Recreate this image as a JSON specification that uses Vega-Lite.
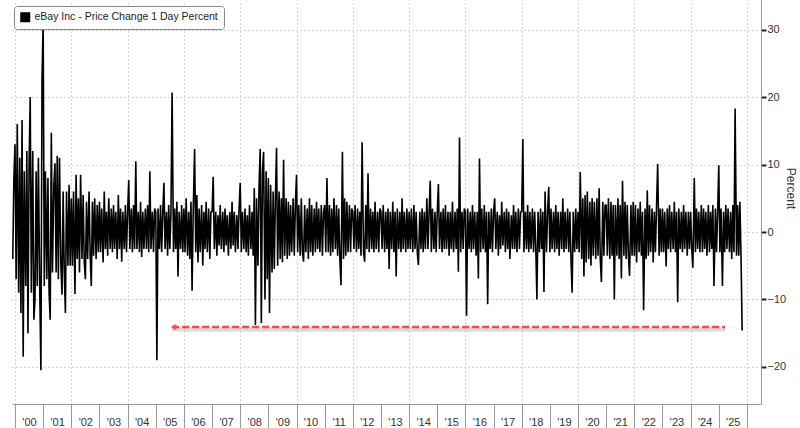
{
"$schema":"https://vega.github.io/schema/vega-lite/v6.json",
"width":749,"height":404,
"autosize":{"type":"none"},
"padding":{"left":12,"top":0,"right":39,"bottom":24},
"background":"white",
"config":{"view":{"stroke":null},"font":"Liberation Sans","axis":{"labelOverlap":false,"labelFlush":false,"labelBound":false}},
"resolve":{"axis":{"x":"independent"}},
"datasets":{
"arrow":[{"t":2005.58,"t2":2025.22,"v":-14.1,"h":2005.63}],
"ret":[
{"t":1999.92,"v":-4},{"t":1999.96,"v":8},
{"t":2000,"v":13},{"t":2000.04,"v":-7},{"t":2000.08,"v":16},{"t":2000.13,"v":-9},{"t":2000.17,"v":11},{"t":2000.21,"v":-12},{"t":2000.25,"v":16.6},{"t":2000.29,"v":-18.5},{"t":2000.33,"v":9},{"t":2000.38,"v":-8},{"t":2000.42,"v":12},{"t":2000.46,"v":-15},{"t":2000.5,"v":10},{"t":2000.54,"v":20},{"t":2000.58,"v":-9},{"t":2000.63,"v":12},{"t":2000.67,"v":-13},{"t":2000.71,"v":-10},{"t":2000.75,"v":9},{"t":2000.79,"v":-8},{"t":2000.83,"v":11},{"t":2000.88,"v":-9},{"t":2000.92,"v":-20.5},{"t":2000.96,"v":23},
{"t":2001,"v":31},{"t":2001.04,"v":-8},{"t":2001.08,"v":9},{"t":2001.13,"v":-7},{"t":2001.17,"v":8},{"t":2001.21,"v":-9},{"t":2001.25,"v":-13},{"t":2001.29,"v":14.7},{"t":2001.33,"v":-6},{"t":2001.38,"v":7},{"t":2001.42,"v":10.2},{"t":2001.46,"v":-6},{"t":2001.5,"v":11.3},{"t":2001.54,"v":-7},{"t":2001.58,"v":11},{"t":2001.63,"v":-5},{"t":2001.67,"v":-9.3},{"t":2001.71,"v":6},{"t":2001.75,"v":-6},{"t":2001.79,"v":-12},{"t":2001.83,"v":6},{"t":2001.88,"v":-5},{"t":2001.92,"v":7},{"t":2001.96,"v":-5},
{"t":2002,"v":5},{"t":2002.04,"v":-5},{"t":2002.08,"v":6},{"t":2002.13,"v":-9.2},{"t":2002.17,"v":8.5},{"t":2002.21,"v":-4},{"t":2002.25,"v":5},{"t":2002.29,"v":-6},{"t":2002.33,"v":8.5},{"t":2002.38,"v":-4},{"t":2002.42,"v":5.5},{"t":2002.46,"v":-4.5},{"t":2002.5,"v":-7},{"t":2002.54,"v":4.5},{"t":2002.58,"v":-4},{"t":2002.63,"v":6},{"t":2002.67,"v":-3.5},{"t":2002.71,"v":-8},{"t":2002.75,"v":4.5},{"t":2002.79,"v":-3.5},{"t":2002.83,"v":5},{"t":2002.88,"v":-4},{"t":2002.92,"v":4},{"t":2002.96,"v":-3},
{"t":2003,"v":4.5},{"t":2003.04,"v":-3},{"t":2003.08,"v":3.5},{"t":2003.13,"v":-4.5},{"t":2003.17,"v":6},{"t":2003.21,"v":-2.5},{"t":2003.25,"v":3},{"t":2003.29,"v":-3.5},{"t":2003.33,"v":5},{"t":2003.38,"v":-2.5},{"t":2003.42,"v":3.5},{"t":2003.46,"v":-3},{"t":2003.5,"v":4},{"t":2003.54,"v":-2.5},{"t":2003.58,"v":3},{"t":2003.63,"v":-4},{"t":2003.67,"v":5.5},{"t":2003.71,"v":-2.5},{"t":2003.75,"v":3.5},{"t":2003.79,"v":-4.4},{"t":2003.83,"v":3},{"t":2003.88,"v":-2.5},{"t":2003.92,"v":4},{"t":2003.96,"v":-3},
{"t":2004,"v":3},{"t":2004.04,"v":7.7},{"t":2004.08,"v":-2.5},{"t":2004.13,"v":3.5},{"t":2004.17,"v":-3},{"t":2004.21,"v":4},{"t":2004.25,"v":-2.5},{"t":2004.29,"v":10.5},{"t":2004.33,"v":-2.5},{"t":2004.38,"v":3},{"t":2004.42,"v":-3},{"t":2004.46,"v":4.5},{"t":2004.5,"v":-3.7},{"t":2004.54,"v":3},{"t":2004.58,"v":-2.5},{"t":2004.63,"v":3.5},{"t":2004.67,"v":-2.5},{"t":2004.71,"v":4},{"t":2004.75,"v":-3},{"t":2004.79,"v":9},{"t":2004.83,"v":-2.5},{"t":2004.88,"v":3},{"t":2004.92,"v":-3},{"t":2004.96,"v":3.5},
{"t":2005,"v":3},{"t":2005.04,"v":-19},{"t":2005.08,"v":3.5},{"t":2005.13,"v":-2.5},{"t":2005.17,"v":4},{"t":2005.21,"v":-3},{"t":2005.25,"v":3},{"t":2005.29,"v":7.3},{"t":2005.33,"v":-2.5},{"t":2005.38,"v":3},{"t":2005.42,"v":-3.5},{"t":2005.46,"v":4},{"t":2005.5,"v":-2.5},{"t":2005.54,"v":3},{"t":2005.58,"v":20.7},{"t":2005.63,"v":-3},{"t":2005.67,"v":3.5},{"t":2005.71,"v":-2.5},{"t":2005.75,"v":4.5},{"t":2005.79,"v":-6.6},{"t":2005.83,"v":3},{"t":2005.88,"v":-2.5},{"t":2005.92,"v":4},{"t":2005.96,"v":-3},
{"t":2006,"v":3.5},{"t":2006.04,"v":-3},{"t":2006.08,"v":5},{"t":2006.13,"v":-3.5},{"t":2006.17,"v":3},{"t":2006.21,"v":-4},{"t":2006.25,"v":4.5},{"t":2006.29,"v":-8.7},{"t":2006.33,"v":3},{"t":2006.38,"v":12.3},{"t":2006.42,"v":-3},{"t":2006.46,"v":5.5},{"t":2006.5,"v":-4.5},{"t":2006.54,"v":3.5},{"t":2006.58,"v":-3},{"t":2006.63,"v":4},{"t":2006.67,"v":-5},{"t":2006.71,"v":3},{"t":2006.75,"v":-2.5},{"t":2006.79,"v":4.5},{"t":2006.83,"v":-3},{"t":2006.88,"v":3.5},{"t":2006.92,"v":-4},{"t":2006.96,"v":3},
{"t":2007,"v":3},{"t":2007.04,"v":8.2},{"t":2007.08,"v":-2.5},{"t":2007.13,"v":3},{"t":2007.17,"v":-3.5},{"t":2007.21,"v":2.5},{"t":2007.25,"v":-2},{"t":2007.29,"v":4},{"t":2007.33,"v":-2.5},{"t":2007.38,"v":3},{"t":2007.42,"v":-3},{"t":2007.46,"v":3.5},{"t":2007.5,"v":-2},{"t":2007.54,"v":2.5},{"t":2007.58,"v":-3.5},{"t":2007.63,"v":3},{"t":2007.67,"v":-2.5},{"t":2007.71,"v":4.5},{"t":2007.75,"v":-2},{"t":2007.79,"v":3},{"t":2007.83,"v":-3},{"t":2007.88,"v":2.5},{"t":2007.92,"v":-2.5},{"t":2007.96,"v":3.5},
{"t":2008,"v":7.3},{"t":2008.04,"v":-3},{"t":2008.08,"v":3},{"t":2008.13,"v":-2.5},{"t":2008.17,"v":3.5},{"t":2008.21,"v":-3},{"t":2008.25,"v":2.5},{"t":2008.29,"v":-3.5},{"t":2008.33,"v":4},{"t":2008.38,"v":-2.5},{"t":2008.42,"v":3},{"t":2008.46,"v":-3.5},{"t":2008.5,"v":6.5},{"t":2008.54,"v":-13.8},{"t":2008.58,"v":5},{"t":2008.63,"v":-5},{"t":2008.67,"v":7},{"t":2008.71,"v":12.3},{"t":2008.75,"v":-13.5},{"t":2008.79,"v":9},{"t":2008.83,"v":11.9},{"t":2008.88,"v":-10},{"t":2008.92,"v":9},{"t":2008.96,"v":-7},
{"t":2009,"v":8},{"t":2009.04,"v":-12},{"t":2009.08,"v":7},{"t":2009.13,"v":-6},{"t":2009.17,"v":6},{"t":2009.21,"v":-5.5},{"t":2009.25,"v":5},{"t":2009.29,"v":12.5},{"t":2009.33,"v":-5},{"t":2009.38,"v":6},{"t":2009.42,"v":-4},{"t":2009.46,"v":5},{"t":2009.5,"v":-4.5},{"t":2009.54,"v":10.7},{"t":2009.58,"v":-3.5},{"t":2009.63,"v":5},{"t":2009.67,"v":-4},{"t":2009.71,"v":4.5},{"t":2009.75,"v":-3.5},{"t":2009.79,"v":4},{"t":2009.83,"v":-3},{"t":2009.88,"v":5},{"t":2009.92,"v":-3.5},{"t":2009.96,"v":4},
{"t":2010,"v":8.5},{"t":2010.04,"v":-3},{"t":2010.08,"v":4},{"t":2010.13,"v":-3.5},{"t":2010.17,"v":5},{"t":2010.21,"v":-3},{"t":2010.25,"v":-4.4},{"t":2010.29,"v":4},{"t":2010.33,"v":-3},{"t":2010.38,"v":3.5},{"t":2010.42,"v":-4},{"t":2010.46,"v":5},{"t":2010.5,"v":-3},{"t":2010.54,"v":4},{"t":2010.58,"v":-3.5},{"t":2010.63,"v":3.5},{"t":2010.67,"v":-3},{"t":2010.71,"v":4.5},{"t":2010.75,"v":-2.5},{"t":2010.79,"v":3.5},{"t":2010.83,"v":-3},{"t":2010.88,"v":4},{"t":2010.92,"v":-3.5},{"t":2010.96,"v":3},
{"t":2011,"v":4},{"t":2011.04,"v":-3},{"t":2011.08,"v":8},{"t":2011.13,"v":-3},{"t":2011.17,"v":4},{"t":2011.21,"v":-3.5},{"t":2011.25,"v":3.5},{"t":2011.29,"v":-3},{"t":2011.33,"v":5},{"t":2011.38,"v":-2.5},{"t":2011.42,"v":4},{"t":2011.46,"v":-3.5},{"t":2011.5,"v":3.5},{"t":2011.54,"v":-4},{"t":2011.58,"v":-7.9},{"t":2011.63,"v":11.9},{"t":2011.67,"v":-4},{"t":2011.71,"v":5},{"t":2011.75,"v":-3.5},{"t":2011.79,"v":4.5},{"t":2011.83,"v":-3},{"t":2011.88,"v":4},{"t":2011.92,"v":-3},{"t":2011.96,"v":3.5},
{"t":2012,"v":3},{"t":2012.04,"v":-2.5},{"t":2012.08,"v":4},{"t":2012.13,"v":-3},{"t":2012.17,"v":3.5},{"t":2012.21,"v":-2.5},{"t":2012.25,"v":3},{"t":2012.29,"v":-3.5},{"t":2012.33,"v":13.3},{"t":2012.38,"v":-3},{"t":2012.42,"v":-4.4},{"t":2012.46,"v":4},{"t":2012.5,"v":-2.5},{"t":2012.54,"v":8.7},{"t":2012.58,"v":-3},{"t":2012.63,"v":3.5},{"t":2012.67,"v":-2.5},{"t":2012.71,"v":3},{"t":2012.75,"v":-3},{"t":2012.79,"v":4.5},{"t":2012.83,"v":-2.5},{"t":2012.88,"v":3},{"t":2012.92,"v":-3},{"t":2012.96,"v":3.5},
{"t":2013,"v":3},{"t":2013.04,"v":-2.5},{"t":2013.08,"v":4},{"t":2013.13,"v":-3},{"t":2013.17,"v":3},{"t":2013.21,"v":-2.5},{"t":2013.25,"v":3.5},{"t":2013.29,"v":-5.5},{"t":2013.33,"v":3},{"t":2013.38,"v":-2.5},{"t":2013.42,"v":4.5},{"t":2013.46,"v":-3},{"t":2013.5,"v":3},{"t":2013.54,"v":-6.6},{"t":2013.58,"v":3.5},{"t":2013.63,"v":-2.5},{"t":2013.67,"v":3},{"t":2013.71,"v":-3},{"t":2013.75,"v":5},{"t":2013.79,"v":-2.5},{"t":2013.83,"v":3},{"t":2013.88,"v":-3},{"t":2013.92,"v":3.5},{"t":2013.96,"v":-2.5},
{"t":2014,"v":3},{"t":2014.04,"v":-2.5},{"t":2014.08,"v":3.5},{"t":2014.13,"v":-3},{"t":2014.17,"v":4},{"t":2014.21,"v":-2.5},{"t":2014.25,"v":3},{"t":2014.29,"v":-3},{"t":2014.33,"v":-4.9},{"t":2014.38,"v":3},{"t":2014.42,"v":-2.5},{"t":2014.46,"v":3.5},{"t":2014.5,"v":-3},{"t":2014.54,"v":3},{"t":2014.58,"v":-2.5},{"t":2014.63,"v":5},{"t":2014.67,"v":-2.5},{"t":2014.71,"v":3},{"t":2014.75,"v":7.6},{"t":2014.79,"v":-3},{"t":2014.83,"v":3.5},{"t":2014.88,"v":-2.5},{"t":2014.92,"v":3},{"t":2014.96,"v":-3},
{"t":2015,"v":3},{"t":2015.04,"v":7.1},{"t":2015.08,"v":-2.5},{"t":2015.13,"v":3},{"t":2015.17,"v":-3},{"t":2015.21,"v":3.5},{"t":2015.25,"v":-2.5},{"t":2015.29,"v":4},{"t":2015.33,"v":-2.5},{"t":2015.38,"v":3},{"t":2015.42,"v":-3.5},{"t":2015.46,"v":3},{"t":2015.5,"v":-2.5},{"t":2015.54,"v":4.5},{"t":2015.58,"v":-3},{"t":2015.63,"v":3},{"t":2015.67,"v":-2.5},{"t":2015.71,"v":3.5},{"t":2015.75,"v":-5.9},{"t":2015.79,"v":14},{"t":2015.83,"v":-3},{"t":2015.88,"v":3},{"t":2015.92,"v":-2.5},{"t":2015.96,"v":3.5},
{"t":2016,"v":3},{"t":2016.04,"v":-12.4},{"t":2016.08,"v":3.5},{"t":2016.13,"v":-2.5},{"t":2016.17,"v":3},{"t":2016.21,"v":-3},{"t":2016.25,"v":4},{"t":2016.29,"v":-2.5},{"t":2016.33,"v":3},{"t":2016.38,"v":-3.5},{"t":2016.42,"v":3},{"t":2016.46,"v":-6.9},{"t":2016.5,"v":10.9},{"t":2016.54,"v":-3},{"t":2016.58,"v":3.5},{"t":2016.63,"v":-2.5},{"t":2016.67,"v":4},{"t":2016.71,"v":-3},{"t":2016.75,"v":3},{"t":2016.79,"v":-10.7},{"t":2016.83,"v":3},{"t":2016.88,"v":-2.5},{"t":2016.92,"v":3.5},{"t":2016.96,"v":-3},
{"t":2017,"v":3},{"t":2017.04,"v":5},{"t":2017.08,"v":-2.5},{"t":2017.13,"v":3},{"t":2017.17,"v":-3.5},{"t":2017.21,"v":2.5},{"t":2017.25,"v":-2.5},{"t":2017.29,"v":4.5},{"t":2017.33,"v":-2},{"t":2017.38,"v":3},{"t":2017.42,"v":-3},{"t":2017.46,"v":3.5},{"t":2017.5,"v":-2.5},{"t":2017.54,"v":3},{"t":2017.58,"v":-4},{"t":2017.63,"v":2.5},{"t":2017.67,"v":-2.5},{"t":2017.71,"v":4},{"t":2017.75,"v":-2.5},{"t":2017.79,"v":3},{"t":2017.83,"v":-3},{"t":2017.88,"v":3.5},{"t":2017.92,"v":-2.5},{"t":2017.96,"v":3},
{"t":2018,"v":3},{"t":2018.04,"v":13.8},{"t":2018.08,"v":-3},{"t":2018.13,"v":3},{"t":2018.17,"v":-2.5},{"t":2018.21,"v":4},{"t":2018.25,"v":-3},{"t":2018.29,"v":3},{"t":2018.33,"v":-2.5},{"t":2018.38,"v":3.5},{"t":2018.42,"v":-3},{"t":2018.46,"v":3},{"t":2018.5,"v":-2.5},{"t":2018.54,"v":-10},{"t":2018.58,"v":3},{"t":2018.63,"v":-3},{"t":2018.67,"v":3.5},{"t":2018.71,"v":-2.5},{"t":2018.75,"v":3},{"t":2018.79,"v":-8.9},{"t":2018.83,"v":6},{"t":2018.88,"v":-3},{"t":2018.92,"v":3},{"t":2018.96,"v":6.7},
{"t":2019,"v":-3},{"t":2019.04,"v":3.5},{"t":2019.08,"v":-2.5},{"t":2019.13,"v":3},{"t":2019.17,"v":-3},{"t":2019.21,"v":4},{"t":2019.25,"v":-2.5},{"t":2019.29,"v":3},{"t":2019.33,"v":-3.5},{"t":2019.38,"v":3},{"t":2019.42,"v":-2.5},{"t":2019.46,"v":5},{"t":2019.5,"v":-3},{"t":2019.54,"v":3},{"t":2019.58,"v":-2.5},{"t":2019.63,"v":3.5},{"t":2019.67,"v":-3},{"t":2019.71,"v":3},{"t":2019.75,"v":-4},{"t":2019.79,"v":-9},{"t":2019.83,"v":3},{"t":2019.88,"v":-3},{"t":2019.92,"v":3.5},{"t":2019.96,"v":-2.5},
{"t":2020,"v":3},{"t":2020.04,"v":-3},{"t":2020.08,"v":8.9},{"t":2020.13,"v":-4},{"t":2020.17,"v":5},{"t":2020.21,"v":-6.6},{"t":2020.25,"v":5.5},{"t":2020.29,"v":-4.5},{"t":2020.33,"v":6},{"t":2020.38,"v":-4},{"t":2020.42,"v":4.5},{"t":2020.46,"v":-5},{"t":2020.5,"v":5},{"t":2020.54,"v":-3.5},{"t":2020.58,"v":4.5},{"t":2020.63,"v":-4},{"t":2020.67,"v":5},{"t":2020.71,"v":-3.5},{"t":2020.75,"v":6.5},{"t":2020.79,"v":-4},{"t":2020.83,"v":-7.4},{"t":2020.88,"v":4.5},{"t":2020.92,"v":-3.5},{"t":2020.96,"v":4},
{"t":2021,"v":4},{"t":2021.04,"v":-3.5},{"t":2021.08,"v":5},{"t":2021.13,"v":-4},{"t":2021.17,"v":4.5},{"t":2021.21,"v":-3.5},{"t":2021.25,"v":4},{"t":2021.29,"v":-10},{"t":2021.33,"v":4},{"t":2021.38,"v":-3.5},{"t":2021.42,"v":5},{"t":2021.46,"v":-4},{"t":2021.5,"v":4},{"t":2021.54,"v":-6.9},{"t":2021.58,"v":7.6},{"t":2021.63,"v":-3.5},{"t":2021.67,"v":4.5},{"t":2021.71,"v":-4},{"t":2021.75,"v":4},{"t":2021.79,"v":-3.5},{"t":2021.83,"v":-6.5},{"t":2021.88,"v":4},{"t":2021.92,"v":-3.5},{"t":2021.96,"v":4.5},
{"t":2022,"v":-3.5},{"t":2022.04,"v":4},{"t":2022.08,"v":-4.5},{"t":2022.13,"v":3.5},{"t":2022.17,"v":-3},{"t":2022.21,"v":4.5},{"t":2022.25,"v":-3.5},{"t":2022.29,"v":3},{"t":2022.33,"v":-11.6},{"t":2022.38,"v":3.5},{"t":2022.42,"v":-4},{"t":2022.46,"v":6.2},{"t":2022.5,"v":-3.5},{"t":2022.54,"v":4},{"t":2022.58,"v":-3},{"t":2022.63,"v":3.5},{"t":2022.67,"v":-4.5},{"t":2022.71,"v":3},{"t":2022.75,"v":-3},{"t":2022.79,"v":4},{"t":2022.83,"v":10.1},{"t":2022.88,"v":-3.5},{"t":2022.92,"v":3.5},{"t":2022.96,"v":-3},
{"t":2023,"v":3.5},{"t":2023.04,"v":-3},{"t":2023.08,"v":3},{"t":2023.13,"v":-5.1},{"t":2023.17,"v":3.5},{"t":2023.21,"v":-2.5},{"t":2023.25,"v":4},{"t":2023.29,"v":-3},{"t":2023.33,"v":3},{"t":2023.38,"v":-2.5},{"t":2023.42,"v":4.5},{"t":2023.46,"v":-3},{"t":2023.5,"v":3},{"t":2023.54,"v":-10.4},{"t":2023.58,"v":3.5},{"t":2023.63,"v":-2.5},{"t":2023.67,"v":3},{"t":2023.71,"v":-3},{"t":2023.75,"v":4},{"t":2023.79,"v":-2.5},{"t":2023.83,"v":3},{"t":2023.88,"v":-3.5},{"t":2023.92,"v":3},{"t":2023.96,"v":-2.5},
{"t":2024,"v":3},{"t":2024.04,"v":-2.5},{"t":2024.08,"v":-5.3},{"t":2024.13,"v":8},{"t":2024.17,"v":-3},{"t":2024.21,"v":3.5},{"t":2024.25,"v":-2.5},{"t":2024.29,"v":3},{"t":2024.33,"v":-3},{"t":2024.38,"v":4},{"t":2024.42,"v":-3},{"t":2024.46,"v":3.5},{"t":2024.5,"v":-2.5},{"t":2024.54,"v":3},{"t":2024.58,"v":-3.5},{"t":2024.63,"v":4},{"t":2024.67,"v":-3},{"t":2024.71,"v":3},{"t":2024.75,"v":-2.5},{"t":2024.79,"v":4},{"t":2024.83,"v":-8},{"t":2024.88,"v":3.5},{"t":2024.92,"v":-3},{"t":2024.96,"v":3},
{"t":2025,"v":9.9},{"t":2025.04,"v":-3},{"t":2025.08,"v":3.5},{"t":2025.13,"v":-8},{"t":2025.17,"v":3},{"t":2025.21,"v":-3},{"t":2025.25,"v":4},{"t":2025.29,"v":-2.5},{"t":2025.33,"v":3.5},{"t":2025.38,"v":-3},{"t":2025.42,"v":3},{"t":2025.46,"v":-4},{"t":2025.5,"v":4},{"t":2025.54,"v":-3},{"t":2025.58,"v":18.3},{"t":2025.63,"v":-3.5},{"t":2025.67,"v":4},{"t":2025.71,"v":-3.5},{"t":2025.75,"v":4.5},{"t":2025.79,"v":-3.5},{"t":2025.83,"v":-14.6}
]},
"layer":[
{"data":{"name":"ret"},
 "mark":{"type":"line","strokeWidth":1.6,"strokeJoin":"bevel","clip":true},
 "encoding":{
  "x":{"field":"t","type":"quantitative","scale":{"domain":[1999.893,2026.5],"nice":false,"zero":false},
   "axis":{"title":null,"orient":"bottom","values":[2000,2001,2002,2003,2004,2005,2006,2007,2008,2009,2010,2011,2012,2013,2014,2015,2016,2017,2018,2019,2020,2021,2022,2023,2024,2025,2026],
    "labelExpr":"datum.value < 2026 ? \"'\" + substring(toString(datum.value), 2, 4) : ''",
    "labelOffset":14,"labelPadding":-12,"labelFontSize":11,"labelColor":"#333","labelFlush":false,"labelOverlap":false,
    "tickSize":24,"tickColor":"#999","tickWidth":1,"domainColor":"#999","grid":false}},
  "y":{"field":"v","type":"quantitative","scale":{"domain":[-25.5,34.4],"nice":false,"zero":false},
   "axis":{"orient":"right","title":"Percent","values":[-20,-10,0,10,20,30],"format":"d",
    "tickSize":5,"tickWidth":2,"tickColor":"#222",
    "domainColor":"#999","labelFontSize":11,"labelColor":"#333","labelPadding":1,"labelOverlap":false,
    "grid":true,"gridColor":"#aaa","gridDash":[1,3],
    "titleFontSize":12,"titleFontWeight":"normal","titleColor":"#333","titleAngle":90,"titleX":29,"titleY":188,"titleBaseline":"middle","titleAlign":"center"}},
  "color":{"datum":"eBay Inc - Price Change 1 Day Percent","type":"nominal","scale":{"range":["#000000"]},
   "legend":{"title":null,"orient":"none","legendX":2,"legendY":6,"symbolType":"square","symbolSize":100,"symbolFillColor":"#000","symbolStrokeColor":"#000","symbolStrokeWidth":0,
    "labelFontSize":10.5,"labelColor":"#222","labelFont":"Liberation Sans","labelLimit":400,"strokeColor":"#888","fillColor":"#fff","cornerRadius":3,"padding":6}}
 }},
{"data":{"name":"arrow"},
 "mark":{"type":"rule","color":"#000","opacity":0.15,"strokeWidth":4,"yOffset":2.5},
 "encoding":{"x":{"field":"t","type":"quantitative",
   "axis":{"orient":"top","title":null,"values":[2000,2002,2004,2006,2008,2010,2012,2014,2016,2018,2020,2022,2024,2026],"labels":false,"ticks":false,"domain":false,"grid":true,"gridColor":"#aaa","gridDash":[1,3]}},
  "x2":{"field":"t2"},"y":{"field":"v","type":"quantitative"}}},
{"data":{"name":"arrow"},
 "mark":{"type":"rule","color":"#ff4a3d","strokeWidth":2.5,"strokeDash":[7,3]},
 "encoding":{"x":{"field":"t","type":"quantitative","axis":null},"x2":{"field":"t2"},"y":{"field":"v","type":"quantitative"}}},
{"data":{"name":"arrow"},
 "mark":{"type":"point","shape":"triangle-left","filled":true,"color":"#ff4a3d","size":40,"opacity":1},
 "encoding":{"x":{"field":"h","type":"quantitative","axis":null},"y":{"field":"v","type":"quantitative"}}}
]
}
